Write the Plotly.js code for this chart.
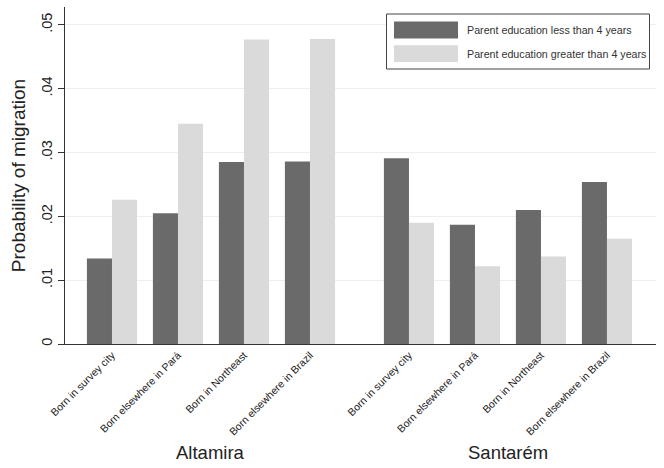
<!DOCTYPE html>
<html>
<head>
<meta charset="utf-8">
<script src="https://cdn.plot.ly/plotly-3.0.1.min.js"></script>
<style>html,body{margin:0;padding:0;background:#fff;}#chart{width:664px;height:468px;}</style>
</head>
<body>
<div id="chart"></div>
<script>
// ---- data ----
var cities = ['Altamira', 'Santarém'];
var categories = ['Born in survey city', 'Born elsewhere in Pará', 'Born in Northeast', 'Born elsewhere in Brazil'];
var seriesNames = ['Parent education less than 4 years', 'Parent education greater than 4 years'];
var altamiraLow  = [0.0134, 0.0205, 0.0285, 0.0286];
var altamiraHigh = [0.0226, 0.0345, 0.0477, 0.0478];
var santaremLow  = [0.0291, 0.0187, 0.0210, 0.0254];
var santaremHigh = [0.0190, 0.0122, 0.0137, 0.0165];
var yTickVals = [0, 0.01, 0.02, 0.03, 0.04, 0.05];
var yTickText = ['0', '.01', '.02', '.03', '.04', '.05'];

// ---- build ----
var groupStep = categories.length + 0.5;
var xs = [], labels = [];
cities.forEach(function (c, g) {
  categories.forEach(function (cat, i) { xs.push(g * groupStep + i); labels.push(cat); });
});
var lowVals = altamiraLow.concat(santaremLow);
var highVals = altamiraHigh.concat(santaremHigh);

var darkCol = '#6a6a6a', lightCol = '#dadada';
var FONT = 'Liberation Sans, Arial, Helvetica, sans-serif';

var traces = [
  {type: 'bar', x: xs, y: lowVals, name: seriesNames[0], marker: {color: darkCol, line: {width: 0}}, showlegend: false, hoverinfo: 'none'},
  {type: 'bar', x: xs, y: highVals, name: seriesNames[1], marker: {color: lightCol, line: {width: 0}}, showlegend: false, hoverinfo: 'none'}
];

var plotH = 337;
function py(px) { return (344 - px) / plotH; }   // helper: pixel row -> paper y
var plotW = 591;
function px2(px) { return (px - 65) / plotW; }    // pixel col -> paper x

var annotations = [];
cities.forEach(function (c, g) {
  annotations.push({text: c, x: g * groupStep + (categories.length - 1) / 2, xref: 'x', y: py(452), yref: 'paper',
    showarrow: false, xanchor: 'center', yanchor: 'middle', font: {family: FONT, size: 18.5, color: '#222'}});
});
seriesNames.forEach(function (s, k) {
  annotations.push({text: s, x: px2(465), xref: 'paper', y: py(30 + k * 23.7), yref: 'paper',
    showarrow: false, xanchor: 'left', yanchor: 'middle', font: {family: FONT, size: 10.7, color: '#333'}});
});

var shapes = [
  {type: 'rect', xref: 'paper', yref: 'paper', x0: px2(386.5), x1: px2(649.5), y0: py(14), y1: py(69),
    line: {color: '#444', width: 1}, fillcolor: 'rgba(255,255,255,1)', layer: 'above'},
  {type: 'rect', xref: 'paper', yref: 'paper', x0: px2(394), x1: px2(458), y0: py(21.5), y1: py(38.5),
    line: {width: 0}, fillcolor: darkCol, layer: 'above'},
  {type: 'rect', xref: 'paper', yref: 'paper', x0: px2(394), x1: px2(458), y0: py(45.3), y1: py(62),
    line: {width: 0}, fillcolor: lightCol, layer: 'above'}
];

var layout = {
  width: 664, height: 468,
  margin: {l: 65, r: 8, t: 7, b: 124},
  paper_bgcolor: '#fff', plot_bgcolor: '#fff',
  barmode: 'group', bargap: 0.24, bargroupgap: 0,
  font: {family: FONT, color: '#333'},
  xaxis: {
    range: [-0.712, 8.243], tickmode: 'array', tickvals: xs, ticktext: labels,
    tickangle: -45, tickfont: {family: FONT, size: 10.5, color: '#222'},
    showgrid: false, zeroline: false, showline: true, linecolor: '#333', linewidth: 1,
    ticks: '', fixedrange: true
  },
  yaxis: {
    range: [0, 0.0528], tickmode: 'array', tickvals: yTickVals, ticktext: yTickText,
    tickangle: -90, tickfont: {family: FONT, size: 14.5, color: '#222'},
    ticks: 'outside', ticklen: 6, tickcolor: '#333',
    showgrid: true, gridcolor: '#eeeeee', gridwidth: 1, zeroline: false,
    showline: true, linecolor: '#333', linewidth: 1,
    title: {text: 'Probability of migration', font: {family: FONT, size: 19, color: '#222'}, standoff: 8},
    automargin: false
  },
  annotations: annotations,
  shapes: shapes
};

Plotly.newPlot('chart', traces, layout, {staticPlot: true, displayModeBar: false});
</script>
</body>
</html>
